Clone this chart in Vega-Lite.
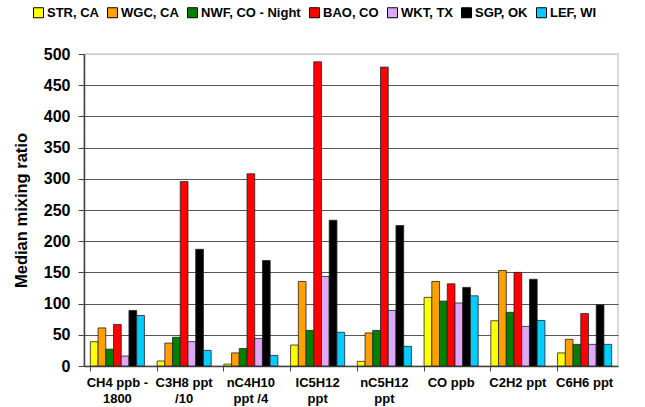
{
  "$schema": "https://vega.github.io/schema/vega-lite/v6.json",
  "width": 534,
  "height": 312,
  "autosize": {"type": "none"},
  "padding": {"left": 84, "top": 54, "right": 27, "bottom": 41},
  "background": "white",
  "config": {
    "font": "Liberation Sans",
    "view": {"stroke": "#cfcfcf", "strokeWidth": 1.5},
    "axis": {"labelFont": "Liberation Sans", "titleFont": "Liberation Sans", "labelColor": "black", "titleColor": "black"}
  },
  "data": {
    "values": [
      {"gas": "CH4 ppb -|1800", "site": "STR, CA", "value": 39},
      {"gas": "CH4 ppb -|1800", "site": "WGC, CA", "value": 61},
      {"gas": "CH4 ppb -|1800", "site": "NWF, CO - Night", "value": 27},
      {"gas": "CH4 ppb -|1800", "site": "BAO, CO", "value": 66.5},
      {"gas": "CH4 ppb -|1800", "site": "WKT, TX", "value": 16},
      {"gas": "CH4 ppb -|1800", "site": "SGP, OK", "value": 89},
      {"gas": "CH4 ppb -|1800", "site": "LEF, WI", "value": 81},
      {"gas": "C3H8 ppt|/10", "site": "STR, CA", "value": 8},
      {"gas": "C3H8 ppt|/10", "site": "WGC, CA", "value": 36.7},
      {"gas": "C3H8 ppt|/10", "site": "NWF, CO - Night", "value": 46},
      {"gas": "C3H8 ppt|/10", "site": "BAO, CO", "value": 295.5},
      {"gas": "C3H8 ppt|/10", "site": "WKT, TX", "value": 39},
      {"gas": "C3H8 ppt|/10", "site": "SGP, OK", "value": 187},
      {"gas": "C3H8 ppt|/10", "site": "LEF, WI", "value": 25},
      {"gas": "nC4H10|ppt /4", "site": "STR, CA", "value": 3},
      {"gas": "nC4H10|ppt /4", "site": "WGC, CA", "value": 21},
      {"gas": "nC4H10|ppt /4", "site": "NWF, CO - Night", "value": 28},
      {"gas": "nC4H10|ppt /4", "site": "BAO, CO", "value": 308},
      {"gas": "nC4H10|ppt /4", "site": "WKT, TX", "value": 44},
      {"gas": "nC4H10|ppt /4", "site": "SGP, OK", "value": 169},
      {"gas": "nC4H10|ppt /4", "site": "LEF, WI", "value": 17},
      {"gas": "IC5H12|ppt", "site": "STR, CA", "value": 33.6},
      {"gas": "IC5H12|ppt", "site": "WGC, CA", "value": 135.5},
      {"gas": "IC5H12|ppt", "site": "NWF, CO - Night", "value": 57},
      {"gas": "IC5H12|ppt", "site": "BAO, CO", "value": 487.5},
      {"gas": "IC5H12|ppt", "site": "WKT, TX", "value": 143.5},
      {"gas": "IC5H12|ppt", "site": "SGP, OK", "value": 233.6},
      {"gas": "IC5H12|ppt", "site": "LEF, WI", "value": 54},
      {"gas": "nC5H12|ppt", "site": "STR, CA", "value": 7.5},
      {"gas": "nC5H12|ppt", "site": "WGC, CA", "value": 53},
      {"gas": "nC5H12|ppt", "site": "NWF, CO - Night", "value": 57},
      {"gas": "nC5H12|ppt", "site": "BAO, CO", "value": 479},
      {"gas": "nC5H12|ppt", "site": "WKT, TX", "value": 89},
      {"gas": "nC5H12|ppt", "site": "SGP, OK", "value": 225},
      {"gas": "nC5H12|ppt", "site": "LEF, WI", "value": 31.5},
      {"gas": "CO ppb", "site": "STR, CA", "value": 110},
      {"gas": "CO ppb", "site": "WGC, CA", "value": 135.5},
      {"gas": "CO ppb", "site": "NWF, CO - Night", "value": 104},
      {"gas": "CO ppb", "site": "BAO, CO", "value": 131.7},
      {"gas": "CO ppb", "site": "WKT, TX", "value": 101},
      {"gas": "CO ppb", "site": "SGP, OK", "value": 126},
      {"gas": "CO ppb", "site": "LEF, WI", "value": 112.5},
      {"gas": "C2H2 ppt", "site": "STR, CA", "value": 72.5},
      {"gas": "C2H2 ppt", "site": "WGC, CA", "value": 153},
      {"gas": "C2H2 ppt", "site": "NWF, CO - Night", "value": 86},
      {"gas": "C2H2 ppt", "site": "BAO, CO", "value": 150},
      {"gas": "C2H2 ppt", "site": "WKT, TX", "value": 63.5},
      {"gas": "C2H2 ppt", "site": "SGP, OK", "value": 139},
      {"gas": "C2H2 ppt", "site": "LEF, WI", "value": 73},
      {"gas": "C6H6 ppt", "site": "STR, CA", "value": 21},
      {"gas": "C6H6 ppt", "site": "WGC, CA", "value": 42.7},
      {"gas": "C6H6 ppt", "site": "NWF, CO - Night", "value": 34.7},
      {"gas": "C6H6 ppt", "site": "BAO, CO", "value": 84},
      {"gas": "C6H6 ppt", "site": "WKT, TX", "value": 34.7},
      {"gas": "C6H6 ppt", "site": "SGP, OK", "value": 98},
      {"gas": "C6H6 ppt", "site": "LEF, WI", "value": 34.7}
    ]
  },
  "mark": {"type": "bar", "stroke": "#222222", "strokeWidth": 0.8},
  "encoding": {
    "x": {
      "field": "gas",
      "type": "nominal",
      "sort": ["CH4 ppb -|1800", "C3H8 ppt|/10", "nC4H10|ppt /4", "IC5H12|ppt", "nC5H12|ppt", "CO ppb", "C2H2 ppt", "C6H6 ppt"],
      "scale": {"paddingInner": 0.19, "paddingOuter": 0.095},
      "axis": {
        "title": null,
        "labelAngle": 0,
        "labelExpr": "split(datum.label, '|')",
        "labelFontSize": 13,
        "labelFontWeight": "bold",
        "labelLineHeight": 16,
        "labelPadding": 5,
        "bandPosition": 0,
        "tickSize": 5,
        "tickColor": "#444444",
        "domainColor": "#444444",
        "domainWidth": 1.5,
        "grid": false
      }
    },
    "xOffset": {
      "field": "site",
      "type": "nominal",
      "sort": ["STR, CA", "WGC, CA", "NWF, CO - Night", "BAO, CO", "WKT, TX", "SGP, OK", "LEF, WI"],
      "scale": {"paddingInner": 0, "paddingOuter": 0}
    },
    "y": {
      "field": "value",
      "type": "quantitative",
      "scale": {"domain": [0, 500], "nice": false},
      "axis": {
        "title": "Median mixing ratio",
        "titleFontSize": 16.5,
        "titleFontWeight": "bold",
        "titlePadding": 14,
        "values": [0, 50, 100, 150, 200, 250, 300, 350, 400, 450, 500],
        "labelFontSize": 16,
        "labelFontWeight": "bold",
        "labelPadding": 8,
        "tickSize": 6,
        "tickColor": "#444444",
        "domainColor": "#444444",
        "domainWidth": 1.5,
        "grid": true,
        "gridColor": {"condition": {"test": "datum.value == 500 || datum.value == 0", "value": "#cfcfcf"}, "value": "#555555"},
        "gridWidth": 1
      }
    },
    "fill": {
      "field": "site",
      "type": "nominal",
      "sort": ["STR, CA", "WGC, CA", "NWF, CO - Night", "BAO, CO", "WKT, TX", "SGP, OK", "LEF, WI"],
      "scale": {
        "domain": ["STR, CA", "WGC, CA", "NWF, CO - Night", "BAO, CO", "WKT, TX", "SGP, OK", "LEF, WI"],
        "range": ["#FFFF00", "#FFA000", "#008000", "#FF0000", "#DDA8F5", "#000000", "#00CCFF"]
      },
      "legend": {
        "title": null,
        "orient": "none",
        "direction": "horizontal",
        "legendX": -52,
        "legendY": -48,
        "symbolType": "square",
        "symbolSize": 100,
        "symbolStrokeColor": "#000000",
        "symbolStrokeWidth": 1,
        "labelFontSize": 13,
        "labelFontWeight": "bold",
        "labelFont": "Liberation Sans",
        "labelColor": "black",
        "labelOffset": 2,
        "columnPadding": 6
      }
    }
  }
}
